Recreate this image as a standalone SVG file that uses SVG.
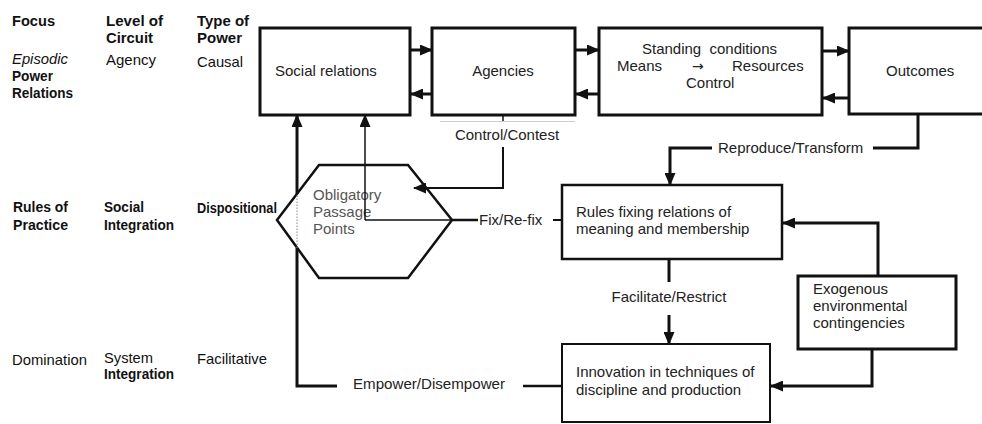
<svg xmlns="http://www.w3.org/2000/svg" width="982" height="424" viewBox="0 0 982 424">
  <style>
    .box { fill: #fff; stroke: #111; stroke-width: 3; }
    .thin-box { fill: #fff; stroke: #111; stroke-width: 2; }
    .hex { fill: #fff; stroke: #111; stroke-width: 2.5; }
    .t { font-family: "Liberation Sans", Arial, sans-serif; font-size: 15px; fill: #222; }
    .lbl { font-family: "Liberation Sans", Arial, sans-serif; font-size: 14.5px; fill: #111; }
    .b { font-weight: bold; }
    .g { fill: #555; }
    .sym { font-family: "DejaVu Sans", sans-serif; font-size: 14px; }
    .c { stroke: #111; stroke-width: 3; fill: none; }
    .cthin { stroke: #111; stroke-width: 1.5; fill: none; }
    .arr { marker-end: url(#head); }
  </style>
  <defs>
    <marker id="head" markerUnits="userSpaceOnUse" markerWidth="13" markerHeight="11" refX="12" refY="5.5" orient="auto">
      <path d="M0,0 L13,5.5 L0,11 z" fill="#111"/>
    </marker>
  </defs>
  <rect width="982" height="424" fill="#fff"/>

  <!-- row and column labels -->
  <g id="labels">
    <text class="lbl b" x="12" y="26" textLength="43" lengthAdjust="spacingAndGlyphs">Focus</text>
    <text class="lbl b" x="106" y="26" textLength="57" lengthAdjust="spacingAndGlyphs">Level of</text>
    <text class="lbl b" x="106" y="43" textLength="47" lengthAdjust="spacingAndGlyphs">Circuit</text>
    <text class="lbl b" x="197" y="26" textLength="52" lengthAdjust="spacingAndGlyphs">Type of</text>
    <text class="lbl b" x="197" y="43" textLength="45" lengthAdjust="spacingAndGlyphs">Power</text>

    <text class="lbl" x="12" y="64" font-style="italic" textLength="56" lengthAdjust="spacingAndGlyphs">Episodic</text>
    <text class="lbl b" x="12" y="81" textLength="41" lengthAdjust="spacingAndGlyphs">Power</text>
    <text class="lbl b" x="12" y="98" textLength="61" lengthAdjust="spacingAndGlyphs">Relations</text>
    <text class="lbl" x="106" y="65" textLength="50" lengthAdjust="spacingAndGlyphs">Agency</text>
    <text class="lbl" x="197" y="67" textLength="46" lengthAdjust="spacingAndGlyphs">Causal</text>

    <text class="lbl b" x="13" y="212" textLength="55" lengthAdjust="spacingAndGlyphs">Rules of</text>
    <text class="lbl b" x="13" y="230" textLength="55" lengthAdjust="spacingAndGlyphs">Practice</text>
    <text class="lbl b" x="104" y="212" textLength="40" lengthAdjust="spacingAndGlyphs">Social</text>
    <text class="lbl b" x="104" y="230" textLength="70" lengthAdjust="spacingAndGlyphs">Integration</text>
    <text class="lbl b" x="197" y="213" textLength="80" lengthAdjust="spacingAndGlyphs">Dispositional</text>

    <text class="lbl" x="12" y="365" textLength="75" lengthAdjust="spacingAndGlyphs">Domination</text>
    <text class="lbl" x="104" y="363" textLength="49" lengthAdjust="spacingAndGlyphs">System</text>
    <text class="lbl b" x="104" y="379" textLength="70" lengthAdjust="spacingAndGlyphs">Integration</text>
    <text class="lbl" x="197" y="364" textLength="70" lengthAdjust="spacingAndGlyphs">Facilitative</text>
  </g>

  <!-- nodes -->
  <g id="social-relations">
    <rect class="box" x="260" y="28" width="150" height="87"/>
    <text class="t" x="275" y="76">Social relations</text>
  </g>
  <g id="agencies">
    <rect class="box" x="432" y="28" width="143" height="87"/>
    <text class="t" x="503" y="76" text-anchor="middle">Agencies</text>
  </g>
  <g id="standing-conditions">
    <rect class="box" x="599" y="28" width="223" height="87"/>
    <text class="t" x="642" y="54" textLength="135" lengthAdjust="spacing" xml:space="preserve">Standing  conditions</text>
    <text class="t" y="71"><tspan x="617">Means</tspan><tspan class="sym" x="692">→</tspan><tspan x="732">Resources</tspan></text>
    <text class="t" x="686" y="88">Control</text>
  </g>
  <g id="outcomes">
    <rect class="box" x="849" y="28" width="145" height="86"/>
    <text class="t" x="886" y="76">Outcomes</text>
  </g>
  <g id="obligatory-passage-points">
    <polygon class="hex" points="319,165 408,165 452,220 408,278 319,278 277,220"/>
    <text class="t g" x="313" y="200">Obligatory</text>
    <text class="t g" x="313" y="217">Passage</text>
    <text class="t g" x="313" y="234">Points</text>
  </g>
  <g id="rules">
    <rect class="box" x="562" y="185" width="220" height="74" style="stroke-width:2.5"/>
    <text class="t" x="576" y="217">Rules fixing relations of</text>
    <text class="t" x="576" y="234">meaning and membership</text>
  </g>
  <g id="exogenous">
    <rect class="box" x="798" y="276" width="158" height="73"/>
    <text class="t" x="813" y="294">Exogenous</text>
    <text class="t" x="813" y="311">environmental</text>
    <text class="t" x="813" y="328">contingencies</text>
  </g>
  <g id="innovation">
    <rect class="thin-box" x="562" y="344" width="208" height="78"/>
    <text class="t" x="576" y="377">Innovation in techniques of</text>
    <text class="t" x="576" y="395">discipline and production</text>
  </g>

  <!-- connectors -->
  <g id="connectors">
    <path class="c arr" d="M410,50 H432"/>
    <path class="c arr" d="M432,94 H411"/>
    <path class="c arr" d="M575,50 H599"/>
    <path class="c arr" d="M599,94 H576"/>
    <path class="c arr" d="M823,51 H849"/>
    <path class="c arr" d="M849,98 H823"/>

    <!-- Control/Contest -->
    <path d="M440,121.5 H575" stroke="#ccc" stroke-width="1" fill="none"/>
    <path class="cthin" d="M503,115 V121"/>
    <text class="t" x="507" y="140" text-anchor="middle">Control/Contest</text>
    <path class="cthin arr" d="M503,147 V188 H414" style="stroke-width:2"/>

    <!-- Reproduce/Transform -->
    <path class="c" d="M918,114 V148 H873"/>
    <text class="t" x="718" y="153">Reproduce/Transform</text>
    <path class="c arr" d="M712,148 H670 V185"/>

    <!-- Fix/Re-fix -->
    <path class="cthin arr" d="M365,220 V115"/>
    <path class="cthin" d="M365,220 H452"/>
    <path d="M452,220 H478" stroke="#111" stroke-width="2.5" fill="none"/>
    <text class="t" x="479" y="225">Fix/Re-fix</text>
    <path d="M553,220 H562" stroke="#111" stroke-width="2" fill="none"/>

    <!-- Empower/Disempower -->
    <path class="c" d="M337,386 H297 V248"/>
    <path d="M297,248 V194" stroke="#888" stroke-width="1" stroke-dasharray="1.5 1.5" fill="none"/>
    <path class="c arr" d="M297,194 V115"/>
    <text class="t" x="353" y="389" textLength="152" lengthAdjust="spacingAndGlyphs">Empower/Disempower</text>
    <path class="c" d="M523,386 H562" style="stroke-width:2.5"/>

    <!-- Facilitate/Restrict -->
    <path class="c" d="M669,259 V282"/>
    <text class="t" x="669" y="302" text-anchor="middle">Facilitate/Restrict</text>
    <path class="c arr" d="M669,315 V344"/>

    <!-- exogenous feedback -->
    <path class="c arr" d="M878,276 V223 H783"/>
    <path class="c arr" d="M872,349 V386 H771"/>
  </g>
</svg>
